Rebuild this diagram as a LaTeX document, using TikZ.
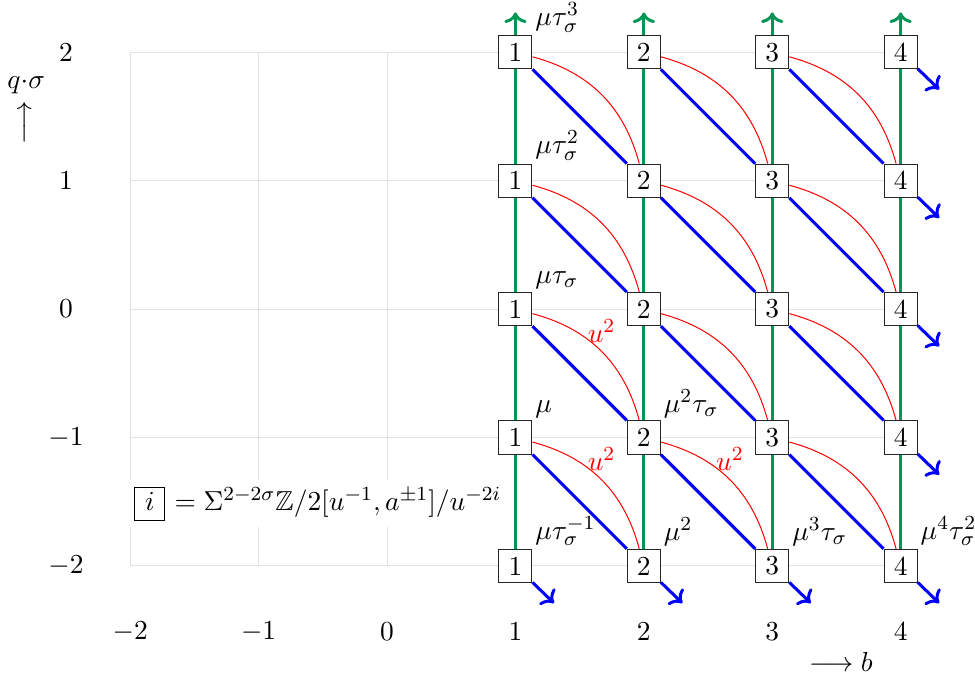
\documentclass[tikz,border=0pt]{standalone}
\definecolor{ClaseVerde}{RGB}{0,150,85}
\definecolor{ClaseAzul}{RGB}{0,0,255}
\definecolor{ClaseRoja}{RGB}{255,0,0}
\definecolor{RejillaGris}{RGB}{225,225,225}
\usepackage{amsmath, amssymb}
\usepackage{tikz}
\usetikzlibrary{arrows, arrows.meta, positioning, backgrounds}
\newcommand{\cajai}{{\setlength{\fboxsep}{0pt}\fbox{\makebox[11.6pt]{\rule[-3.6pt]{0pt}{12.8pt}$i$}}}}

\begin{document}
\begin{tikzpicture}[x=1.8cm, y=1.8cm, font=\fontsize{10.95pt}{13.6pt}\selectfont,
	clase/.style={draw=black!85, fill=white, minimum size=13.2pt, inner sep=0pt, line width=0.4pt},
	verde/.style={ClaseVerde, line width=1.2pt, ->},
	azul/.style={ClaseAzul, line width=1.2pt},
	roja/.style={ClaseRoja, line width=0.4pt},
	monomio/.style={anchor=south west, inner sep=1pt}]
	\useasboundingbox (-3.014,-2.921) rectangle (4.579,2.407);

	% clases
	\foreach \b in {1,...,4}{
		\foreach \q in {-2,...,2}{
			\node[clase] (c\b\q) at (\b,\q) {\b};
		}
	}
	\foreach \b in {1,...,4}{
		\coordinate (g\b) at (\b,2.31);
		\coordinate (a\b-2) at (\b+0.3,-2.29);
	}
	\foreach \q in {-1,...,2}
		\coordinate (a4\q) at (4.3,\q-0.29);

	\begin{scope}[on background layer]
		% rejilla
		\draw[RejillaGris, line width=0.4pt, step=1.8cm] (-2,-2) grid (4,2);
		% torres
		\foreach \b in {1,...,4}
			\draw[verde] (c\b-2) -- (g\b);
		% diferenciales
		\foreach \b in {1,...,3}{
			\foreach \q in {-1,...,2}{
				\pgfmathtruncatemacro{\bb}{\b+1}
				\pgfmathtruncatemacro{\qq}{\q-1}
				\draw[azul] (c\b\q) -- (c\bb\qq);
				\draw[roja] (c\b\q) to[bend left=30] (c\bb\qq);
			}
		}
		\foreach \q in {-1,...,2}
			\draw[azul, ->] (c4\q) -- (a4\q);
		\foreach \b in {1,...,4}
			\draw[azul, ->] (c\b-2) -- (a\b-2);
	\end{scope}

	% etiquetas u^2
	\path (c10) to[bend left=30] node[above, text=ClaseRoja] (u1) {$u^2$} (c2-1);
	\path (c1-1) to[bend left=30] node[above, text=ClaseRoja] (u2) {$u^2$} (c2-2);
	\path (c2-1) to[bend left=30] node[above, text=ClaseRoja] (u3) {$u^2$} (c3-2);

	% monomios
	\foreach \b/\q/\m in {1/2/{\mu\tau_\sigma^3}, 1/1/{\mu\tau_\sigma^2}, 1/0/{\mu\tau_\sigma},
		1/-1/{\mu}, 2/-1/{\mu^2\tau_\sigma}, 1/-2/{\mu\tau_\sigma^{-1}}, 2/-2/{\mu^2},
		3/-2/{\mu^3\tau_\sigma}, 4/-2/{\mu^4\tau_\sigma^2}}
		\node[monomio] (m\b\q) at (c\b\q.north east) {$\m$};

	% ejes
	\foreach \x in {-2,...,4}
		\node (tx\x) at (\x,-2.51) {$\x$};
	\foreach \y in {-2,...,2}
		\node (ty\y) at (-2.5,\y) {$\y$};
	\node (etiqy) at (-2.81,1.745) {$q{\cdot}\sigma$};
	\node[rotate=90] (flechay) at (-2.81,1.45) {$\longrightarrow$};
	\node (etiqb) at (3.535,-2.75) {$\longrightarrow b$};

	% leyenda
	\node[fill=white, anchor=west, inner sep=2.5pt] (leyenda) at (-2.02,-1.515)
		{\cajai~$= \Sigma^{2-2\sigma}\mathbb{Z}/2[u^{-1},a^{\pm1}]/u^{-2i}$};
\end{tikzpicture}
\end{document}
